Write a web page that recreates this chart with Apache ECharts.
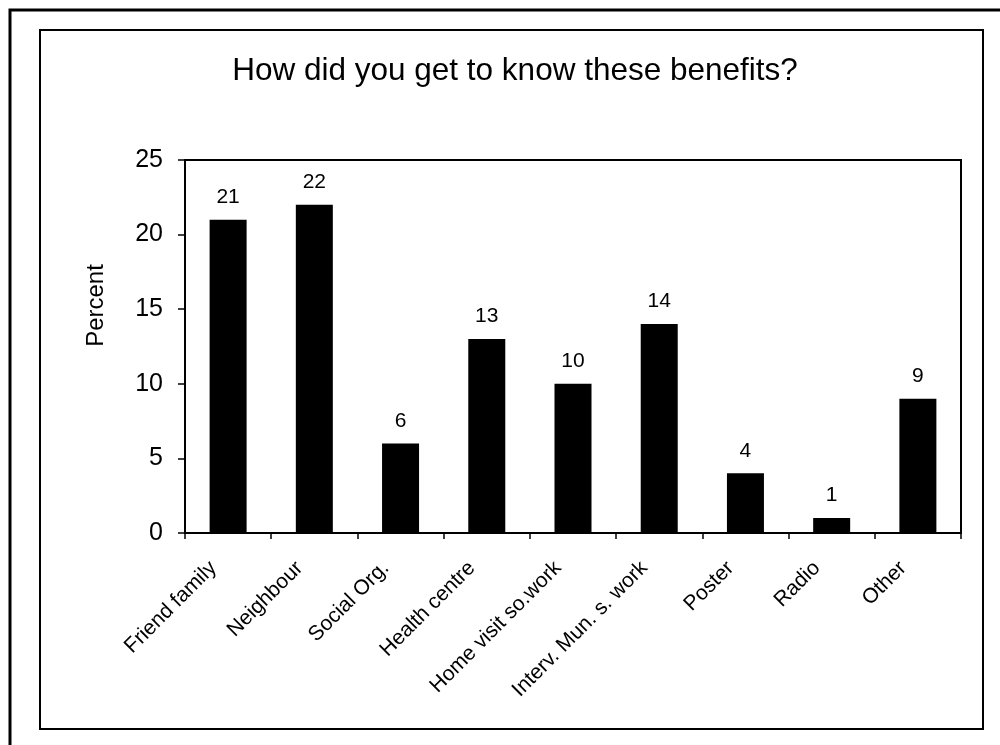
<!DOCTYPE html>
<html>
<head>
<meta charset="utf-8">
<title>How did you get to know these benefits?</title>
<script src="https://cdn.jsdelivr.net/npm/echarts@6/dist/echarts.min.js"></script>
<style>
  html, body { margin: 0; padding: 0; background: #fff; }
  #chart { width: 1000px; height: 745px; }
</style>
</head>
<body>
<div id="chart"></div>
<script>
// data
const categories = ['Friend family', 'Neighbour', 'Social Org.', 'Health centre', 'Home visit so.work',
  'Interv. Mun. s. work', 'Poster', 'Radio', 'Other']
const percents = [21, 22, 6, 13, 10, 14, 4, 1, 9]
const yTicks = [0, 5, 10, 15, 20, 25]

const font = '"Liberation Sans", Arial, sans-serif'
const chart = echarts.init(document.getElementById('chart'))

chart.setOption({
  backgroundColor: '#fff',
  animation: false,
  textStyle: { fontFamily: font, color: '#000' },
  title: {
    text: 'How did you get to know these benefits?',
    left: 510,
    textAlign: 'center',
    top: 50,
    textStyle: { fontFamily: font, fontSize: 31.5, fontWeight: 'normal', color: '#000' }
  },
  // outer frame + inner chart box (scanned figure borders)
  graphic: [
    { type: 'polyline', shape: { points: [[10, 745], [10, 10], [1000, 10]] }, style: { stroke: '#000', lineWidth: 3, fill: null } },
    { type: 'rect', shape: { x: 40, y: 30, width: 943, height: 699 }, style: { stroke: '#000', lineWidth: 2, fill: null } }
  ],
  grid: {
    left: 185, right: 39, top: 160, bottom: 212,
    show: true, borderColor: '#000', borderWidth: 2, backgroundColor: 'transparent'
  },
  xAxis: {
    type: 'category',
    data: categories,
    boundaryGap: true,
    axisLine: { lineStyle: { color: '#000', width: 2 } },
    axisTick: { show: true, length: 6, lineStyle: { color: '#000', width: 1.5 } },
    axisLabel: {
      rotate: 45, interval: 0, margin: 17, padding: [0, 21, 0, 0],
      color: '#000', fontSize: 21, fontFamily: font
    }
  },
  yAxis: {
    type: 'value',
    min: yTicks[0],
    max: yTicks[yTicks.length - 1],
    interval: yTicks[1] - yTicks[0],
    name: 'Percent',
    nameLocation: 'middle',
    nameRotate: 90,
    nameGap: 77,
    nameTextStyle: { fontSize: 24, color: '#000', fontFamily: font, padding: [0, 0, 0, 82] },
    axisLine: { show: true, lineStyle: { color: '#000', width: 2 } },
    axisTick: { show: true, length: 7, lineStyle: { color: '#000', width: 1.5 } },
    axisLabel: { margin: 22, color: '#000', fontSize: 25, fontFamily: font },
    splitLine: { show: false }
  },
  series: [{
    type: 'bar',
    data: percents,
    barWidth: 37,
    itemStyle: { color: '#000' },
    label: {
      show: true,
      position: 'top',
      distance: 12,
      color: '#000',
      fontSize: 21,
      fontFamily: font
    }
  }]
})
</script>
</body>
</html>
